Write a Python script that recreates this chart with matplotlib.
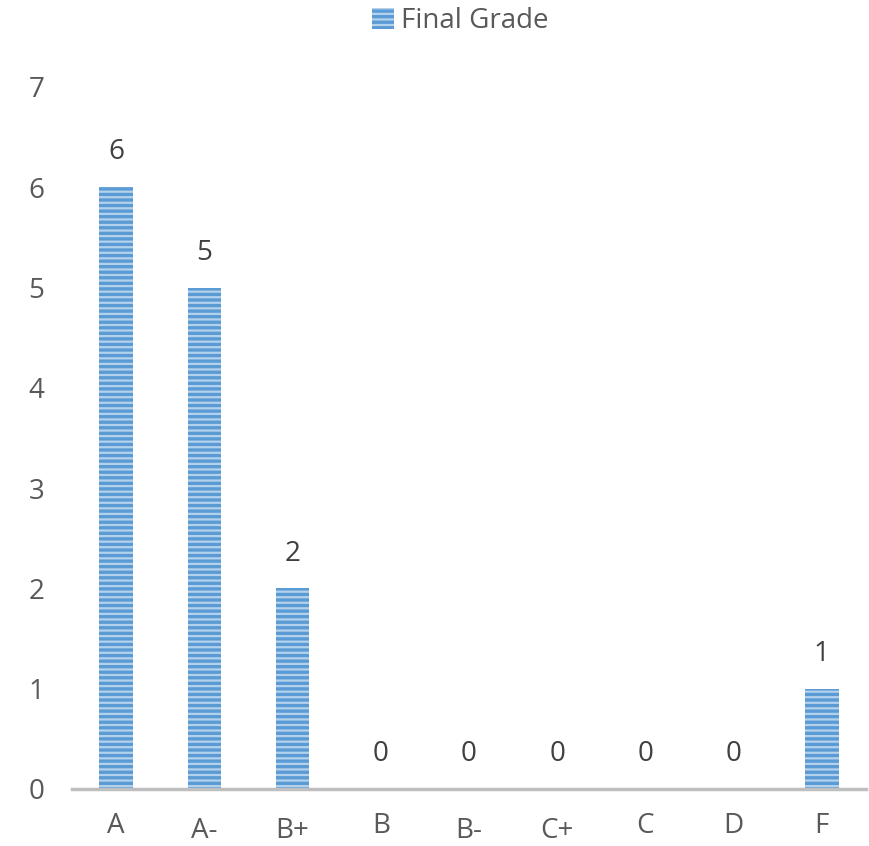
import matplotlib.pyplot as plt
import matplotlib.transforms as mtransforms
from matplotlib.patches import Patch

plt.rcParams['font.family'] = ['Open Sans', 'DejaVu Sans']
plt.rcParams['hatch.linewidth'] = 1.6

grades = ["A", "A-", "B+", "B", "B-", "C+", "C", "D", "F"]
counts = [6, 5, 2, 0, 0, 0, 0, 0, 1]
series_name = "Final Grade"

text_color = "#595959"
bar_color = "#5B9BD5"
stripe_color = "#B4D1EC"

fig = plt.figure(figsize=(8.69, 8.46), dpi=100)
ax = fig.add_axes([0.0829, 0.0674, 0.9136, 0.8298])

x = list(range(len(grades)))
bars = ax.bar(x, counts, width=0.38, color=bar_color, edgecolor=stripe_color,
              hatch="---", linewidth=0)
ax.bar_label(bars, padding=15, fontsize=20, color="#404040")

ax.set_xlim(-0.5, len(grades) - 0.5)
ax.set_ylim(0, 7)
ax.set_yticks(range(0, 8))
ax.tick_params(axis="y", length=0, pad=20, labelsize=20, labelcolor=text_color)
ax.set_xticks([])

for s in ["top", "right", "left"]:
    ax.spines[s].set_visible(False)
ax.spines["bottom"].set_color("#BFBFBF")
ax.spines["bottom"].set_linewidth(2.5)

# category labels, the two-character ones sit a little lower (staggered)
trans = mtransforms.blended_transform_factory(ax.transData, fig.transFigure)
for i, g in enumerate(grades):
    if len(g) == 1:
        ax.text(i, 0.0236, g, transform=trans, ha="center", va="center",
                fontsize=20, color=text_color, clip_on=False)
    else:
        ax.text(i, 0.001, g, transform=trans, ha="center", va="bottom",
                fontsize=20, color=text_color, clip_on=False)

handle = Patch(facecolor=bar_color, edgecolor=stripe_color, hatch="---", linewidth=0)
fig.legend([handle], [series_name], loc="center", bbox_to_anchor=(0.53, 0.975),
           frameon=False, fontsize=20, labelcolor=text_color, handlelength=0.8,
           handleheight=0.8, handletextpad=0.25)

fig.savefig("out.png", dpi=100)
